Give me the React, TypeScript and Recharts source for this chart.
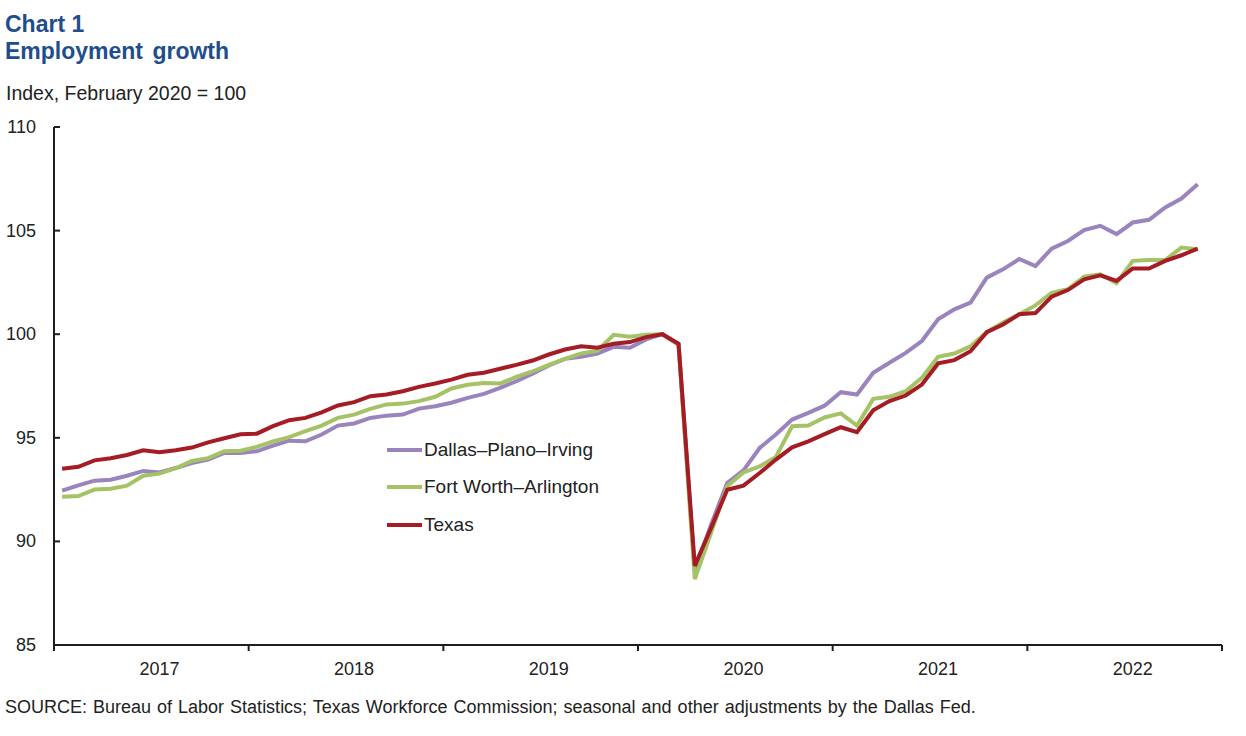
import React from 'react';
import { LineChart, Line, XAxis, YAxis, Legend } from 'recharts';

// Monthly index, Feb 2020 = 100 (Jan 2017 - Nov 2022)
const years = [2017, 2018, 2019, 2020, 2021, 2022];

const dallas = [
  92.45, 92.7, 92.93, 92.98, 93.17, 93.4, 93.33, 93.54, 93.78, 93.95, 94.27, 94.27,
  94.35, 94.62, 94.86, 94.83, 95.16, 95.59, 95.69, 95.96, 96.07, 96.12, 96.41, 96.52,
  96.69, 96.93, 97.12, 97.41, 97.73, 98.09, 98.49, 98.81, 98.91, 99.07, 99.39, 99.35,
  99.75, 100.0, 99.5, 88.6, 90.8, 92.82, 93.43, 94.51, 95.16, 95.88, 96.2, 96.55,
  97.2, 97.09, 98.14, 98.62, 99.1, 99.67, 100.72, 101.2, 101.52, 102.73, 103.13, 103.63,
  103.29, 104.13, 104.5, 105.03, 105.23, 104.83, 105.39, 105.52, 106.12, 106.55, 107.24,
];

const fortWorth = [
  92.16, 92.19, 92.5, 92.54, 92.69, 93.17, 93.27, 93.53, 93.88, 94.02, 94.35, 94.38,
  94.56, 94.83, 95.03, 95.32, 95.59, 95.96, 96.12, 96.4, 96.61, 96.65, 96.77, 96.98,
  97.38, 97.56, 97.65, 97.62, 97.94, 98.2, 98.52, 98.81, 99.07, 99.2, 99.97, 99.88,
  99.97, 100.0, 99.5, 88.18, 90.4, 92.66, 93.33, 93.62, 94.08, 95.56, 95.59, 95.98,
  96.18, 95.59, 96.88, 96.98, 97.25, 97.9, 98.91, 99.07, 99.42, 100.1, 100.56, 100.96,
  101.39, 102.0, 102.17, 102.78, 102.89, 102.46, 103.54, 103.58, 103.58, 104.18, 104.1,
];

const texas = [
  93.51, 93.6, 93.91, 94.01, 94.17, 94.4, 94.3, 94.4, 94.53, 94.78, 94.98, 95.17,
  95.2, 95.56, 95.85, 95.96, 96.23, 96.56, 96.72, 97.01, 97.09, 97.25, 97.46, 97.62,
  97.81, 98.04, 98.14, 98.33, 98.52, 98.73, 99.02, 99.26, 99.42, 99.35, 99.54, 99.62,
  99.86, 100.0, 99.54, 88.82, 90.64, 92.49, 92.69, 93.3, 93.95, 94.54, 94.83, 95.18,
  95.51, 95.27, 96.33, 96.77, 97.04, 97.57, 98.59, 98.75, 99.18, 100.1, 100.47, 100.96,
  101.02, 101.81, 102.13, 102.65, 102.84, 102.57, 103.17, 103.17, 103.54, 103.81, 104.13,
];

const yTicks = [85, 90, 95, 100, 105, 110];

// month i sits in the middle of its slot
const data = dallas.map((v, i) => ({
  m: i + 0.5,
  dallas: v,
  fortWorth: fortWorth[i],
  texas: texas[i],
}));

// year boundaries get a tick mark, July of each year gets the label
const xTicks = [0, ...years.flatMap((_, k) => [k * 12 + 6.5, (k + 1) * 12])];

const FONT = '"Liberation Sans", Arial, sans-serif';
const AXIS = '#1e1e1e';

const XTick = (props: any) => {
  const { x, y, payload } = props;
  const v = payload.value;
  if (v % 12 === 0) {
    return <line x1={x} x2={x} y1={y} y2={y + 6} stroke={AXIS} strokeWidth={2} />;
  }
  return (
    <text x={x} y={y + 30} textAnchor="middle" fontSize={18} fontFamily={FONT} fill="#222">
      {years[Math.floor(v / 12)]}
    </text>
  );
};

const YTick = (props: any) => {
  const { x, y, payload } = props;
  return (
    <g>
      <line x1={x} x2={x + 6} y1={y} y2={y} stroke={AXIS} strokeWidth={2} />
      <text x={x - 18} y={y} dy={6} textAnchor="end" fontSize={18} fontFamily={FONT} fill="#222">
        {payload.value}
      </text>
    </g>
  );
};

const LegendBox = (props: any) => {
  const { payload } = props;
  return (
    <div style={{ fontFamily: FONT, fontSize: 19, color: '#222' }}>
      {payload.map((p: any) => (
        <div key={p.value} style={{ display: 'flex', alignItems: 'center', height: 37.5 }}>
          <span style={{ display: 'inline-block', width: 35, height: 4, background: p.color, marginRight: 2 }} />
          <span>{p.value}</span>
        </div>
      ))}
    </div>
  );
};

export default function App() {
  return (
    <div style={{ position: 'absolute', left: 0, top: 0, width: 1246, height: 736, background: '#fff' }}>
      <LineChart width={1246} height={736} data={data} margin={{ top: 127, right: 24, bottom: 51, left: 0 }}>
        <XAxis
          type="number"
          dataKey="m"
          domain={[0, 72]}
          ticks={xTicks}
          interval={0}
          tickLine={false}
          tickSize={0}
          tickMargin={0}
          height={40}
          axisLine={{ stroke: AXIS, strokeWidth: 2 }}
          tick={<XTick />}
        />
        <YAxis
          type="number"
          domain={[85, 110]}
          ticks={yTicks}
          interval={0}
          width={54}
          tickLine={false}
          tickSize={0}
          tickMargin={0}
          axisLine={{ stroke: AXIS, strokeWidth: 2 }}
          tick={<YTick />}
        />
        <Legend
          layout="vertical"
          align="center"
          verticalAlign="middle"
          content={<LegendBox />}
          wrapperStyle={{ left: 387, top: 431, width: 'auto' }}
        />
        <Line name="Dallas–Plano–Irving" dataKey="dallas" type="linear" stroke="#9a84bd" strokeWidth={4} dot={false} isAnimationActive={false} />
        <Line name="Fort Worth–Arlington" dataKey="fortWorth" type="linear" stroke="#a5c366" strokeWidth={4} dot={false} isAnimationActive={false} />
        <Line name="Texas" dataKey="texas" type="linear" stroke="#a51c24" strokeWidth={4} dot={false} isAnimationActive={false} />
      </LineChart>
      <svg width={1246} height={736} style={{ position: 'absolute', left: 0, top: 0, pointerEvents: 'none' }}>
        <text x={5} y={32} fontFamily={FONT} fontSize={23} fontWeight="bold" fill="#1f4e8c">Chart 1</text>
        <text x={5} y={59} fontFamily={FONT} fontSize={23} fontWeight="bold" fill="#1f4e8c" wordSpacing={3}>Employment growth</text>
        <text x={6} y={100} fontFamily={FONT} fontSize={19.5} fill="#222">Index, February 2020 = 100</text>
        <text x={5} y={713} fontFamily={FONT} fontSize={18} fill="#222" wordSpacing={1}>
          SOURCE: Bureau of Labor Statistics; Texas Workforce Commission; seasonal and other adjustments by the Dallas Fed.
        </text>
      </svg>
    </div>
  );
}
